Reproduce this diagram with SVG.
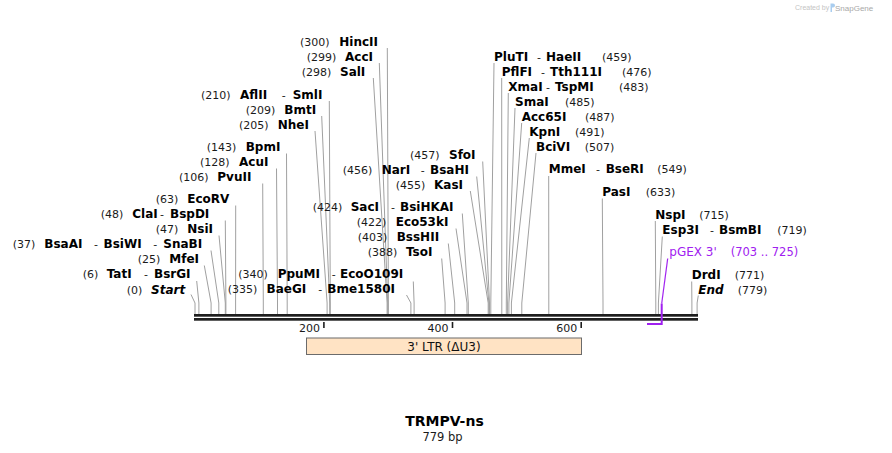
<svg xmlns="http://www.w3.org/2000/svg" width="892" height="453" viewBox="0 0 892 453">
<style>
text{font-family:"DejaVu Sans","Verdana",sans-serif;}
.n{font-size:11px;fill:#1a1a1a;}
.b{font-size:12px;font-weight:bold;fill:#000;}
.bi{font-size:12px;font-weight:bold;font-style:italic;fill:#000;}
.ln{stroke:#a0a0a0;stroke-width:1;fill:none;}
.bar{fill:#1e1e1e;}
.tk{stroke:#1e1e1e;stroke-width:1.6;}
.pg{fill:#a020f0;}
</style>
<rect x="0" y="0" width="892" height="453" fill="#fff"/>
<g id="watermark">
<text x="795" y="10" style="font-family:'Liberation Sans',Arial,sans-serif;font-size:7px;fill:#c4c4c4">Created by</text>
<path d="M830.5,3.5 h2.5 a2,2 0 0 1 0,4 h-1 v4.5 h-1.5 z" fill="#a9cdef"/>
<text x="835" y="10.5" style="font-family:'Liberation Sans',Arial,sans-serif;font-size:8px;fill:#a8a8a8">SnapGene</text>
</g>
<g id="connectors">
<polyline class="ln" points="191,294.5 195,303 195,314"/>
<polyline class="ln" points="196.7,281 198.9,303 198.9,314"/>
<polyline class="ln" points="204.3,265.5 211.1,303 211.1,314"/>
<polyline class="ln" points="211,250.5 218.8,303 218.8,314"/>
<polyline class="ln" points="219,235.5 225.3,303 225.3,314"/>
<polyline class="ln" points="225.3,220.5 225.9,303 225.9,314"/>
<polyline class="ln" points="235.7,205.5 235.6,303 235.6,314"/>
<polyline class="ln" points="262.7,183.5 263.3,303 263.3,314"/>
<polyline class="ln" points="276.5,168.5 277.5,303 277.5,314"/>
<polyline class="ln" points="286.5,153.5 287.2,303 287.2,314"/>
<polyline class="ln" points="315,131 327.1,303 327.1,314"/>
<polyline class="ln" points="321.7,116 329.7,303 329.7,314"/>
<polyline class="ln" points="329.3,101 330.3,303 330.3,314"/>
<polyline class="ln" points="373.3,78 387.1,303 387.1,314"/>
<polyline class="ln" points="379.3,63 387.7,303 387.7,314"/>
<polyline class="ln" points="387.3,48 388.4,303 388.4,314"/>
<polyline class="ln" points="406.5,295 410.9,303 410.9,314"/>
<polyline class="ln" points="413.3,281.5 414.1,303 414.1,314"/>
<polyline class="ln" points="441.7,258.5 445.1,303 445.1,314"/>
<polyline class="ln" points="448.3,243.5 454.7,303 454.7,314"/>
<polyline class="ln" points="456,228.5 467,303 467,314"/>
<polyline class="ln" points="462.3,213.5 468.3,303 468.3,314"/>
<polyline class="ln" points="470.3,191 488.2,303 488.2,314"/>
<polyline class="ln" points="476.7,176.5 488.9,303 488.9,314"/>
<polyline class="ln" points="482.7,161.5 489.5,303 489.5,314"/>
<polyline class="ln" points="494,63 490.8,303 490.8,314"/>
<polyline class="ln" points="501.7,78 501.8,303 501.8,314"/>
<polyline class="ln" points="508.3,93 506.3,303 506.3,314"/>
<polyline class="ln" points="515,108 507.6,303 507.6,314"/>
<polyline class="ln" points="521.7,123 508.9,303 508.9,314"/>
<polyline class="ln" points="529.3,138 511.4,303 511.4,314"/>
<polyline class="ln" points="536,153 521.8,303 521.8,314"/>
<polyline class="ln" points="548.7,176 548.8,303 548.8,314"/>
<polyline class="ln" points="602.3,198.5 603,303 603,314"/>
<polyline class="ln" points="655.3,221 655.8,303 655.8,314"/>
<polyline class="ln" points="662.3,236.5 658.4,303 658.4,314"/>
<polyline class="ln" points="691.7,281.5 691.9,303 691.9,314"/>
<polyline class="ln" points="698.3,295.5 697.1,303 697.1,314"/>
<line x1="667.7" y1="258.5" x2="661.7" y2="303.5" stroke="#a020f0" stroke-width="1.2"/>
</g>
<g id="sequence">
<rect class="bar" x="194" y="314" width="504" height="2.7"/>
<rect class="bar" x="194" y="318" width="504" height="2.7"/>
<line class="tk" x1="323.9" y1="322" x2="323.9" y2="328"/>
<line class="tk" x1="452.5" y1="322" x2="452.5" y2="328"/>
<line class="tk" x1="581.2" y1="322" x2="581.2" y2="328"/>
<text class="n" x="320" y="332" text-anchor="end">200</text>
<text class="n" x="448.6" y="332" text-anchor="end">400</text>
<text class="n" x="577.3" y="332" text-anchor="end">600</text>
</g>
<g id="feature-ltr">
<rect x="306.5" y="338" width="275" height="16.5" fill="#ffe3c4" stroke="#6b6b6b" stroke-width="1"/>
<text x="444" y="351" text-anchor="middle" style="font-size:12px;fill:#111">3' LTR (ΔU3)</text>
</g>
<g id="primer-pgex3">
<path d="M661.7,303.5 V324 H647" fill="none" stroke="#a020f0" stroke-width="2"/>
<text x="669.3" y="256" class="pg" style="font-size:12px">pGEX 3'</text>
<text x="730.7" y="256" class="pg" style="font-size:11.5px">(703 .. 725)</text>
</g>
<g id="e0"><text y="293.5"><tspan class="n" x="126.7">(0)</tspan><tspan class="bi" x="151">Start</tspan></text></g>
<g id="e6"><text y="278.3"><tspan class="n" x="82.7">(6)</tspan><tspan class="b" x="106.7">TatI</tspan><tspan class="n" x="144">-</tspan><tspan class="b" x="154">BsrGI</tspan></text></g>
<g id="e25"><text y="263.3"><tspan class="n" x="137.7">(25)</tspan><tspan class="b" x="169.3">MfeI</tspan></text></g>
<g id="e37"><text y="248.3"><tspan class="n" x="12.7">(37)</tspan><tspan class="b" x="44.3">BsaAI</tspan><tspan class="n" x="94">-</tspan><tspan class="b" x="103.5">BsiWI</tspan><tspan class="n" x="153.3">-</tspan><tspan class="b" x="163.3">SnaBI</tspan></text></g>
<g id="e47"><text y="233.3"><tspan class="n" x="155.7">(47)</tspan><tspan class="b" x="187.3">NsiI</tspan></text></g>
<g id="e48"><text y="218.3"><tspan class="n" x="100.7">(48)</tspan><tspan class="b" x="132.3">ClaI</tspan><tspan class="n" x="160">-</tspan><tspan class="b" x="170">BspDI</tspan></text></g>
<g id="e63"><text y="203.3"><tspan class="n" x="155.7">(63)</tspan><tspan class="b" x="187.3">EcoRV</tspan></text></g>
<g id="e106"><text y="181"><tspan class="n" x="179">(106)</tspan><tspan class="b" x="217.3">PvuII</tspan></text></g>
<g id="e128"><text y="166"><tspan class="n" x="200">(128)</tspan><tspan class="b" x="239">AcuI</tspan></text></g>
<g id="e143"><text y="151"><tspan class="n" x="206.7">(143)</tspan><tspan class="b" x="245.7">BpmI</tspan></text></g>
<g id="e205"><text y="129"><tspan class="n" x="239">(205)</tspan><tspan class="b" x="277.7">NheI</tspan></text></g>
<g id="e209"><text y="114"><tspan class="n" x="245.7">(209)</tspan><tspan class="b" x="284.3">BmtI</tspan></text></g>
<g id="e210"><text y="99"><tspan class="n" x="201">(210)</tspan><tspan class="b" x="240">AflII</tspan><tspan class="n" x="281.7">-</tspan><tspan class="b" x="292.7">SmlI</tspan></text></g>
<g id="e298"><text y="76"><tspan class="n" x="301.7">(298)</tspan><tspan class="b" x="340">SalI</tspan></text></g>
<g id="e299"><text y="61"><tspan class="n" x="306.7">(299)</tspan><tspan class="b" x="345">AccI</tspan></text></g>
<g id="e300"><text y="46"><tspan class="n" x="300">(300)</tspan><tspan class="b" x="339.3">HincII</tspan></text></g>
<g id="e335"><text y="293.3"><tspan class="n" x="227.7">(335)</tspan><tspan class="b" x="266.5">BaeGI</tspan><tspan class="n" x="318.3">-</tspan><tspan class="b" x="327.3">Bme1580I</tspan></text></g>
<g id="e340"><text y="278.3"><tspan class="n" x="238.3">(340)</tspan><tspan class="b" x="277.7">PpuMI</tspan><tspan class="n" x="331.7">-</tspan><tspan class="b" x="340">EcoO109I</tspan></text></g>
<g id="e388"><text y="256"><tspan class="n" x="367.7">(388)</tspan><tspan class="b" x="406">TsoI</tspan></text></g>
<g id="e403"><text y="241"><tspan class="n" x="357.7">(403)</tspan><tspan class="b" x="396.7">BssHII</tspan></text></g>
<g id="e422"><text y="226"><tspan class="n" x="356.7">(422)</tspan><tspan class="b" x="395.7">Eco53kI</tspan></text></g>
<g id="e424"><text y="211"><tspan class="n" x="312.7">(424)</tspan><tspan class="b" x="350.7">SacI</tspan><tspan class="n" x="391">-</tspan><tspan class="b" x="400">BsiHKAI</tspan></text></g>
<g id="e455"><text y="188.5"><tspan class="n" x="395.7">(455)</tspan><tspan class="b" x="434">KasI</tspan></text></g>
<g id="e456"><text y="174"><tspan class="n" x="342.7">(456)</tspan><tspan class="b" x="381.7">NarI</tspan><tspan class="n" x="420.7">-</tspan><tspan class="b" x="430">BsaHI</tspan></text></g>
<g id="e457"><text y="159"><tspan class="n" x="410">(457)</tspan><tspan class="b" x="449">SfoI</tspan></text></g>
<g id="e459"><text y="60.7"><tspan class="b" x="494">PluTI</tspan><tspan class="n" x="537">-</tspan><tspan class="b" x="546">HaeII</tspan><tspan class="n" x="602">(459)</tspan></text></g>
<g id="e476"><text y="75.7"><tspan class="b" x="501.7">PflFI</tspan><tspan class="n" x="541">-</tspan><tspan class="b" x="550">Tth111I</tspan><tspan class="n" x="622">(476)</tspan></text></g>
<g id="e483"><text y="90.7"><tspan class="b" x="508.3">XmaI</tspan><tspan class="n" x="546">-</tspan><tspan class="b" x="555">TspMI</tspan><tspan class="n" x="619">(483)</tspan></text></g>
<g id="e485"><text y="105.7"><tspan class="b" x="515">SmaI</tspan><tspan class="n" x="565">(485)</tspan></text></g>
<g id="e487"><text y="120.7"><tspan class="b" x="521.7">Acc65I</tspan><tspan class="n" x="585">(487)</tspan></text></g>
<g id="e491"><text y="135.7"><tspan class="b" x="529.3">KpnI</tspan><tspan class="n" x="575">(491)</tspan></text></g>
<g id="e507"><text y="150.7"><tspan class="b" x="536">BciVI</tspan><tspan class="n" x="584.7">(507)</tspan></text></g>
<g id="e549"><text y="173.3"><tspan class="b" x="548.7">MmeI</tspan><tspan class="n" x="596">-</tspan><tspan class="b" x="605.7">BseRI</tspan><tspan class="n" x="657.3">(549)</tspan></text></g>
<g id="e633"><text y="196"><tspan class="b" x="602.3">PasI</tspan><tspan class="n" x="645.7">(633)</tspan></text></g>
<g id="e715"><text y="218.5"><tspan class="b" x="655.3">NspI</tspan><tspan class="n" x="699.3">(715)</tspan></text></g>
<g id="e719"><text y="233.5"><tspan class="b" x="662.3">Esp3I</tspan><tspan class="n" x="710">-</tspan><tspan class="b" x="719">BsmBI</tspan><tspan class="n" x="777.3">(719)</tspan></text></g>
<g id="e771"><text y="279"><tspan class="b" x="691.7">DrdI</tspan><tspan class="n" x="734.7">(771)</tspan></text></g>
<g id="e779"><text y="293.5"><tspan class="bi" x="698.3">End</tspan><tspan class="n" x="737.7">(779)</tspan></text></g>
<g id="title">
<text x="444.5" y="426" text-anchor="middle" style="font-size:14px;font-weight:bold;fill:#000">TRMPV-ns</text>
<text x="442.5" y="441" text-anchor="middle" style="font-size:11.5px;fill:#1a1a1a">779 bp</text>
</g>
</svg>
